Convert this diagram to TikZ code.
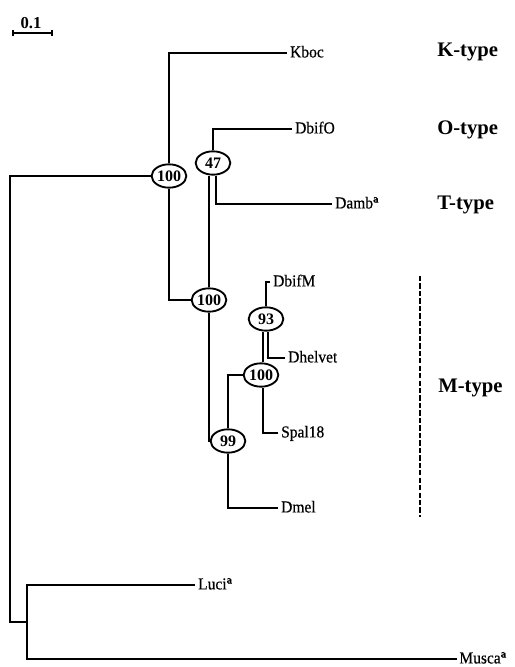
\documentclass[tikz,border=0pt]{standalone}
\usepackage{fontspec}
\setmainfont{Liberation Serif}
\newfontfamily\taxonfont[FakeStretch=0.93,FakeBold=0.5]{Liberation Serif}
\usetikzlibrary{arrows.meta,shapes.geometric}

\begin{document}
\begin{tikzpicture}[
  x=0.75pt,y=-0.75pt,
  branch/.style={black, line width=1.4pt},
  support/.style={ellipse, draw=black, line width=1.4pt, fill=white, inner sep=0pt,
    minimum width=26pt, minimum height=17.5pt, font=\bfseries\fontsize{12}{13}\selectfont},
  leaf/.style={anchor=west, inner sep=2.2pt, text height=0.66em, text depth=0pt,
    font=\taxonfont\fontsize{12.5}{13}\selectfont},
  group/.style={anchor=west, inner sep=0pt, font=\bfseries\fontsize{15.5}{16}\selectfont},
  bracket/.style={black, line width=1.1pt, dash pattern=on 4pt off 1.6pt}
]
\useasboundingbox (0,0) rectangle (514,667);

% ----------------------------- scale bar -----------------------------
\coordinate (sbl) at (12,33);
\coordinate (sbr) at (53,33);
\draw[branch, {Bar[width=5pt]}-{Bar[width=5pt]}] (sbl) -- (sbr);
\node[font=\bfseries\fontsize{12.5}{13}\selectfont, anchor=south, inner sep=1pt] (sblab) at (31,30) {0.1};

% ----------------------------- support values -----------------------------
\node[support] (n100a) at (169,176) {100};
\node[support] (n47)   at (213,163) {47};
\node[support] (n100b) at (209,300) {100};
\node[support] (n99)   at (228,441) {99};
\node[support] (n100c) at (261,375) {100};
\node[support] (n93)   at (266,319) {93};

% ----------------------------- taxa -----------------------------
\node[leaf] (kboc)    at (287,53)  {Kboc};
\node[leaf] (dbifo)   at (292,129) {DbifO};
\node[leaf] (damb)    at (332,204) {Damb\textsuperscript{\bfseries a}};
\node[leaf] (dbifm)   at (270,282) {DbifM};
\node[leaf] (dhelvet) at (285,358) {Dhelvet};
\node[leaf] (spal)    at (278,433) {Spal18};
\node[leaf] (dmel)    at (278,508) {Dmel};
\node[leaf] (luci)    at (195,585) {Luci\textsuperscript{\bfseries a}};
\node[leaf, inner sep=1.6pt] (musca) at (457,659) {Musca\textsuperscript{\bfseries a}};

\coordinate (root) at (10,622);
\coordinate (outg) at (27,622);

% ----------------------------- branches -----------------------------
\draw[branch] (n100a.west) -| (root) -- (outg);
\draw[branch] (luci.west) -| (outg) |- (musca.west);

\draw[branch] (n100a.north) |- (kboc.west);
\draw[branch] (n100a.south) |- (n100b.west);

\draw[branch] (n100b.north) -- (n100b.north |- n47.south);
\draw[branch] (n47.north) |- (dbifo.west);
\draw[branch] ([xshift=2.4pt]n47.south) |- (damb.west);

\draw[branch] (n100b.south) |- (n99.west);
\draw[branch] (n99.north) |- (n100c.west);
\draw[branch] (n99.south) |- (dmel.west);

\draw[branch] ([xshift=1.2pt]n100c.north) -- ([xshift=1.2pt]n100c.north |- n93.south);
\draw[branch] ([xshift=1.2pt]n100c.south) |- (spal.west);
\draw[branch] (n93.north) |- (dbifm.west);
\draw[branch] ([xshift=1.2pt]n93.south) |- (dhelvet.west);

% ----------------------------- groups -----------------------------
\node[group] (ktype) at (437,52)  {K-type};
\node[group] (otype) at (437,130) {O-type};
\node[group] (ttype) at (437,205) {T-type};
\node[group] (mtype) at (438,388) {M-type};

\coordinate (mtop) at (420,276);
\coordinate (mbot) at (420,517);
\draw[bracket] (mtop) -- (mbot);

\end{tikzpicture}
\end{document}
